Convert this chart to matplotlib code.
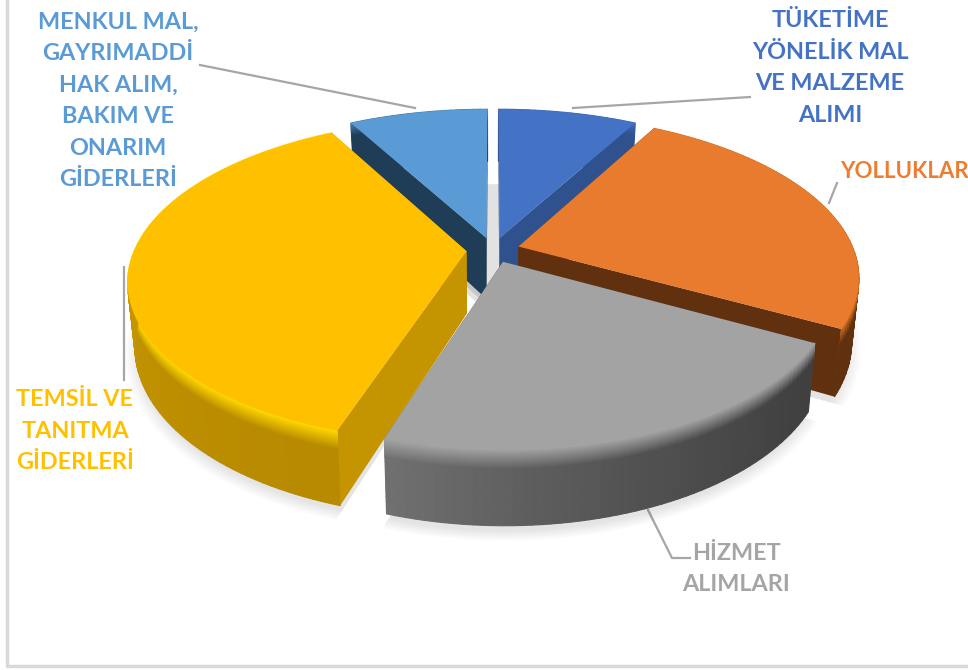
import numpy as np
import matplotlib
matplotlib.use("Agg")
import matplotlib.pyplot as plt
from matplotlib.collections import PolyCollection
from matplotlib.colors import to_rgb

labels = ["TÜKETİME\nYÖNELİK MAL\nVE MALZEME\nALIMI", "YOLLUKLAR", "HİZMET\nALIMLARI",
          "TEMSİL VE\nTANITMA\nGİDERLERİ", "MENKUL MAL,\nGAYRIMADDİ\nHAK ALIM,\nBAKIM VE\nONARIM\nGİDERLERİ"]
values = [8, 25, 22, 37, 8]

top_colors = ["#4472C4", "#E97B2E", "#A3A3A3", "#FFC000", "#5B9BD5"]
text_colors = ["#4472C4", "#ED7D31", "#A5A5A5", "#FFC000", "#5B9BD5"]
radial_colors = ["#2F528F", "#61300F", "#4A4A4A", "#C49500", "#203D57"]
wall_start = ["#2F528F", "#61300F", "#404040", "#B88A00", "#203D57"]
wall_end = ["#2F528F", "#61300F", "#707070", "#DDAA00", "#203D57"]
rim_colors = ["#3F6AB8", "#D0701F", "#A3A3A3", "#FFD800", "#4A80B0"]

cx, cy = 493, 250
rx, ry = 332, 156
persp = 0.18
depth = 62
explode = 0.08
radius = [1.0, 1.01, 0.965, 1.0, 1.0]
draw_order = [4, 0, 1, 3, 2]

label_pos = [(830, 68, "center"), (840, 172, "left"), (736, 569, "center"),
             (75, 431, "center"), (118, 101, "center")]
label_size = [16.8, 16, 16.8, 16.8, 16.8]
leaders = [[(573, 108), (750, 97)], [(829, 203), (837, 183)],
           [(648, 510), (672, 558), (690, 558)], [(124, 267), (124, 380)],
           [(200, 65), (415, 108)]]

plt.rcParams["font.family"] = ["Lato", "DejaVu Sans"]


def project(theta, r, z, mid, ex=explode):
    u = r * np.sin(theta) + ex * np.sin(mid)
    v = r * np.cos(theta) + ex * np.cos(mid)
    s = 1 / (1 + persp * v)
    # slight narrowing towards the base
    x = cx + rx * u * s * (1 - 0.02 * z)
    return x, cy - ry * v * s + depth * z * s


def lerp(a, b, t):
    a, b = np.array(to_rgb(a)), np.array(to_rgb(b))
    return a + (b - a) * t


fig = plt.figure(figsize=(9.68, 6.70), dpi=100)
ax = fig.add_axes([0, 0, 1, 1])
ax.set_xlim(0, 968)
ax.set_ylim(670, 0)
ax.axis("off")

# chart frame
ax.plot([7, 7, 968], [0, 666, 666], color="#D9D9D9", lw=2.5)

fracs = np.array(values) / sum(values)
ends = np.cumsum(fracs) * 2 * np.pi
starts = ends - fracs * 2 * np.pi

# soft shadow under the slices
for grow in np.linspace(1.03, 0.99, 9):
    for i in range(len(values)):
        t = np.linspace(starts[i], ends[i], 60)
        mid = (starts[i] + ends[i]) / 2
        x, y = project(t, grow * radius[i], 1.1, mid)
        ox, oy = project(0.0, 0.0, 1.1, mid)
        ax.fill(np.r_[ox, x], np.r_[oy, y], color="black", alpha=0.012, lw=0, zorder=1)
# shadow seen through the gap at the back
t = np.linspace(-0.5, 0.5, 40)
x, y = project(t, 0.93, 1.1, 0.0, ex=0.0)
ox, oy = project(0.0, 0.0, 1.1, 0.0, ex=0.0)
ax.fill(np.r_[ox, x], np.r_[oy, y], color="#E2E2E2", lw=0, zorder=0.8)

for i in draw_order:
    a, b = starts[i], ends[i]
    mid = (a + b) / 2
    r = radius[i]
    z0 = 2 + draw_order.index(i) * 3

    # flat cut faces
    for edge in (a, b):
        px, py = project(edge, r, 0.0, mid)
        qx, qy = project(edge, 0.0, 0.0, mid)
        px2, py2 = project(edge, r, 1.0, mid)
        qx2, qy2 = project(edge, 0.0, 1.0, mid)
        ax.fill([px, qx, qx2, px2], [py, qy, qy2, py2], color=radial_colors[i], lw=0, zorder=z0)

    # outer wall with rim highlight
    thetas = np.linspace(a, b, max(int((b - a) * 40), 8))
    zs = np.r_[np.linspace(0, 0.25, 14), np.linspace(0.3, 1, 4)]
    polys, cols = [], []
    for j in range(len(thetas) - 1):
        t = (j / (len(thetas) - 2)) ** 1.5
        base = lerp(wall_start[i], wall_end[i], t)
        for k in range(len(zs) - 1):
            x1, y1 = project(thetas[j], r, zs[k], mid)
            x2, y2 = project(thetas[j + 1], r, zs[k], mid)
            x3, y3 = project(thetas[j + 1], r, zs[k + 1], mid)
            x4, y4 = project(thetas[j], r, zs[k + 1], mid)
            polys.append([(x1, y1), (x2, y2), (x3, y3), (x4, y4)])
            f = min(zs[k] / 0.25, 1.0)
            cols.append(np.array(to_rgb(rim_colors[i])) * (1 - f) + base * f)
    ax.add_collection(PolyCollection(polys, facecolors=cols, edgecolors=cols, linewidths=0.8, zorder=z0 + 1))

    # top face
    t = np.linspace(a, b, 80)
    x, y = project(t, r, 0.0, mid)
    ox, oy = project(0.0, 0.0, 0.0, mid)
    ax.fill(np.r_[ox, x], np.r_[oy, y], color=top_colors[i], lw=0, zorder=z0 + 2)

for i, pts in enumerate(leaders):
    xs, ys = zip(*pts)
    ax.plot(xs, ys, color="#A6A6A6", lw=1.6, zorder=0.5)

for i, lab in enumerate(labels):
    x, y, ha = label_pos[i]
    ax.text(x, y, lab, color=text_colors[i], fontsize=label_size[i], fontweight="bold", ha=ha, va="center",
            multialignment="center", linespacing=1.61, zorder=30)

fig.savefig("out.png", dpi=100)
